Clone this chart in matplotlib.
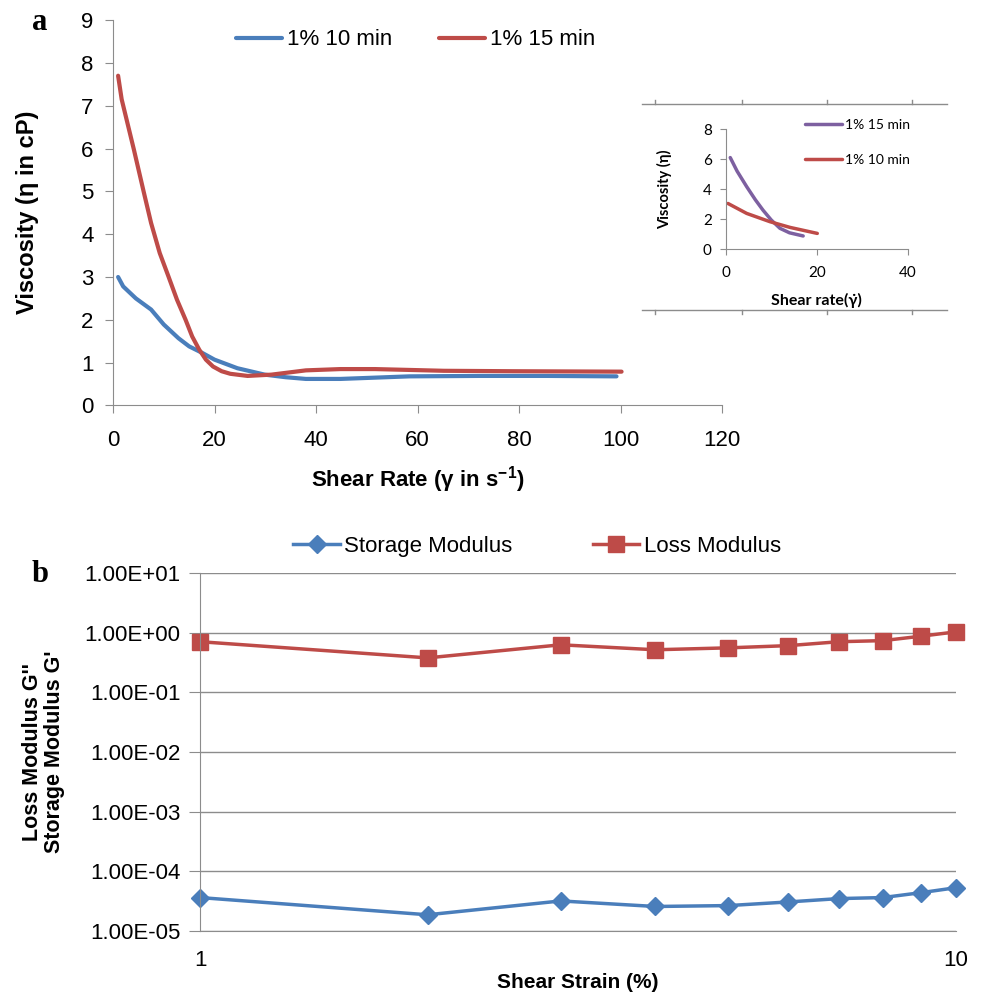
import numpy as np
import matplotlib
matplotlib.use("Agg")
import matplotlib.pyplot as plt
from matplotlib.lines import Line2D

plt.rcParams['font.family'] = ['Liberation Sans', 'DejaVu Sans']
plt.rcParams['mathtext.fontset'] = 'custom'
plt.rcParams['mathtext.rm'] = 'Liberation Sans'
plt.rcParams['mathtext.bf'] = 'Liberation Sans:bold'

# ---------- dados: viscosidade (a) ----------
x_10min = [1, 2, 4.5, 7.5, 10, 12.9, 15, 17.7, 20, 24.5, 29.9, 34, 38, 44.8, 58.4, 72, 85.6, 99.2]
y_10min = [3.0, 2.78, 2.50, 2.24, 1.89, 1.57, 1.38, 1.22, 1.07, 0.87, 0.72, 0.66, 0.62, 0.62, 0.68, 0.69, 0.69, 0.68]
x_15min = [1, 1.7, 4.1, 6.1, 7.5, 9.2, 10.9, 12.6, 14.3, 15.6, 17.0, 18.3, 19.7, 21.4, 23.1, 26.5,
           31.2, 38, 44.8, 51.6, 65.2, 78.8, 100.2]
y_15min = [7.7, 7.15, 5.98, 4.96, 4.26, 3.56, 3.02, 2.47, 2.0, 1.61, 1.30, 1.07, 0.91, 0.80, 0.74, 0.69,
           0.72, 0.82, 0.85, 0.85, 0.81, 0.80, 0.79]

# inset
xi_15 = [1, 2.5, 4.6, 6.5, 8.2, 10, 11.9, 14, 17]
yi_15 = [6.1, 5.2, 4.17, 3.3, 2.6, 1.95, 1.4, 1.1, 0.89]
xi_10 = [0.5, 4.6, 9.7, 14.1, 20.1]
yi_10 = [3.05, 2.39, 1.84, 1.46, 1.06]

# ---------- dados: modulos (b) ----------
strain = [1, 2, 3, 4, 5, 6, 7, 8, 9, 10]
storage = [3.6e-5, 1.85e-5, 3.16e-5, 2.55e-5, 2.64e-5, 3.04e-5, 3.46e-5, 3.6e-5, 4.36e-5, 5.27e-5]
loss = [0.71, 0.38, 0.63, 0.52, 0.56, 0.61, 0.71, 0.74, 0.88, 1.04]

blue = '#4A7EBB'
red = '#BE4B48'
purple = '#7D60A0'
gray = '#8C8C8C'
lato = ['Lato', 'DejaVu Sans']

fig = plt.figure(figsize=(9.82, 9.97), dpi=100)

# ---------- GRAFICO a ----------
ax = fig.add_axes([0.1151, 0.5933, 0.6202, 0.3866])
ax.plot(x_10min, y_10min, color=blue, lw=3, label='1% 10 min', solid_capstyle='round')
ax.plot(x_15min, y_15min, color=red, lw=3, label='1% 15 min', solid_capstyle='round')
ax.set_xlim(0, 120)
ax.set_ylim(0, 9)
ax.set_xticks(range(0, 121, 20))
ax.set_yticks(range(0, 10))
for s in ['top', 'right']:
    ax.spines[s].set_visible(False)
for s in ['left', 'bottom']:
    ax.spines[s].set_color(gray)
ax.tick_params(direction='out', length=6, color=gray, labelsize=16)
ax.tick_params(axis='x', pad=12)
ax.tick_params(axis='y', pad=8)
ax.set_xlabel(r'Shear Rate (γ in s$^{\mathbf{-1}}$)', fontsize=16, fontweight='bold', labelpad=9)
ax.set_ylabel('Viscosity (η in cP)', fontsize=17, fontweight='bold', labelpad=30)
fig.legend(handles=ax.get_lines(), loc='center', bbox_to_anchor=(0.423, 0.96), ncol=2,
           frameon=False, fontsize=16, handlelength=2.1, handletextpad=0.2, columnspacing=2.1)

# ---------- inset ----------
ins = fig.add_axes([0.739, 0.7499, 0.1856, 0.1207])
ins.plot(xi_15, yi_15, color=purple, lw=2.5, label='1% 15 min', solid_capstyle='round')
ins.plot(xi_10, yi_10, color=red, lw=2.5, label='1% 10 min', solid_capstyle='round')
ins.set_xlim(0, 40)
ins.set_ylim(0, 8)
ins.set_xticks([0, 20, 40])
ins.set_yticks([0, 2, 4, 6, 8])
for s in ['top', 'right']:
    ins.spines[s].set_visible(False)
for s in ['left', 'bottom']:
    ins.spines[s].set_color(gray)
ins.tick_params(direction='out', length=4, color=gray, labelsize=11)
ins.tick_params(axis='x', pad=8)
ins.tick_params(axis='y', pad=6)
for t in ins.get_xticklabels() + ins.get_yticklabels():
    t.set_family(lato)
ins.set_xlabel('Shear rate(γ̇)', fontsize=11.5, fontweight='bold', family=lato, labelpad=9)
ins.set_ylabel('Viscosity (η)', fontsize=10.5, fontweight='bold', family=lato, labelpad=22)
ins.legend(loc='upper left', bbox_to_anchor=(0.435, 1.085), frameon=False, handlelength=2.7,
           handletextpad=0.15, labelspacing=1.65, borderpad=0, borderaxespad=0,
           prop={'family': lato, 'size': 10})
# linhas de contorno do grafico colado
fig.add_artist(Line2D([642 / 982, 947 / 982], [1 - 104 / 997] * 2, color=gray, lw=1))
fig.add_artist(Line2D([642 / 982, 947 / 982], [1 - 310 / 997] * 2, color=gray, lw=1))
for px in [655, 742, 827, 912]:
    fig.add_artist(Line2D([px / 982] * 2, [1 - 100 / 997, 1 - 104 / 997], color=gray, lw=1))
    fig.add_artist(Line2D([px / 982] * 2, [1 - 310 / 997, 1 - 314 / 997], color=gray, lw=1))

# ---------- GRAFICO b ----------
bx = fig.add_axes([0.2037, 0.0665, 0.7699, 0.3585])
bx.plot(strain, storage, color=blue, lw=2.5, marker='D', ms=9, label='Storage Modulus', clip_on=False)
bx.plot(strain, loss, color=red, lw=2.5, marker='s', ms=11, label='Loss Modulus', clip_on=False)
bx.set_xscale('log')
bx.set_yscale('log')
bx.set_xlim(1, 10)
bx.set_ylim(1e-5, 10)
bx.set_yticks([10.0 ** k for k in range(-5, 2)])
bx.set_yticklabels(['%.2E' % (10.0 ** k) for k in range(-5, 2)])
bx.minorticks_off()
bx.set_xticks([1, 10])
bx.set_xticklabels(['1', '10'])
bx.grid(axis='y', color=gray, lw=1)
bx.set_axisbelow(True)
for s in ['top', 'right']:
    bx.spines[s].set_visible(False)
bx.spines['left'].set_color(gray)
bx.spines['bottom'].set_color(gray)
bx.tick_params(axis='y', direction='out', length=8, color=gray, labelsize=16, pad=6)
bx.tick_params(axis='x', length=0, labelsize=16, pad=14)
bx.set_xlabel('Shear Strain (%)', fontsize=15, fontweight='bold', labelpad=1)
bx.set_ylabel("Loss Modulus G''\nStorage Modulus G'", fontsize=15.5, fontweight='bold',
              labelpad=14, linespacing=1.05)
fig.legend(handles=bx.get_lines(), loc='center', bbox_to_anchor=(0.547, 0.4523), ncol=2,
           frameon=False, fontsize=16, handlelength=2.1, handletextpad=0.2, columnspacing=3.6)

# rotulos dos paineis
fig.text(40 / 982, 1 - 22 / 997, 'a', fontsize=22, fontweight='bold', family='Liberation Serif',
         ha='center', va='center')
fig.text(40 / 982, 1 - 574 / 997, 'b', fontsize=22, fontweight='bold', family='Liberation Serif',
         ha='center', va='center')

fig.savefig('out.png', dpi=100)
